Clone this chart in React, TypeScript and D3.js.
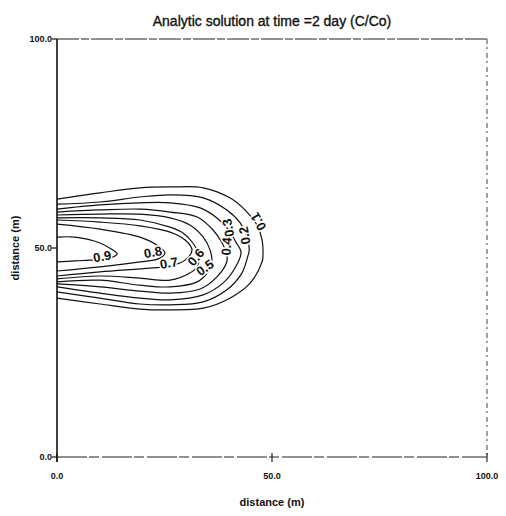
import React from "react";
import * as d3 from "d3";

const W = 506;
const H = 516;

const title = "Analytic solution at time =2 day (C/Co)";
const xTicks = [0, 50, 100];
const yTicks = [0, 50, 100];
const xTickLabels = ["0.0", "50.0", "100.0"];
const yTickLabels = ["0.0", "50.0", "100.0"];
const xTitle = "distance (m)";
const yTitle = "distance (m)";

const levels = [0.1, 0.2, 0.3, 0.4, 0.5, 0.6, 0.7, 0.8, 0.9];

// contour traces, [x (m), y (m)]
const c01: [number, number][] = [[0, 61.7], [10, 63.2], [19.3, 64.4], [26.3, 64.6], [34, 64.4], [40.2, 62.0], [44.2, 58.6], [46.5, 55.5], [47.7, 51.9], [47.9, 48.3], [47.7, 46.7], [44.9, 41.6], [40.2, 38.0], [34, 35.6], [26.3, 35.2], [19.3, 35.4], [10, 36.6], [0, 38.0]];
const c02: [number, number][] = [[0, 60.5], [10, 61.0], [19.3, 62.2], [26.3, 62.7], [34, 62.0], [39.5, 59.1], [42.6, 56.0], [44.2, 52.6], [44.7, 49.5], [44.4, 48.1], [43.0, 44.0], [39.5, 40.0], [34, 37.1], [26.3, 36.4], [19.3, 36.6], [10, 38.0], [0, 39.5]];
const c03: [number, number][] = [[0, 59.3], [10, 60.3], [19.3, 60.8], [26.3, 60.8], [33.3, 59.6], [37.2, 57.2], [39.8, 54.5], [41.6, 51.4], [42.8, 49.0], [41.4, 45.2], [38.6, 41.6], [34, 38.8], [26.3, 37.6], [19.3, 38.0], [10, 39.2], [0, 40.7]];
const c04: [number, number][] = [[0, 58.6], [10, 59.1], [19.3, 59.3], [26.3, 58.6], [32.6, 57.4], [36.3, 54.3], [38.4, 51.2], [39.5, 48.3], [39.5, 46.7], [37.2, 43.1], [33.3, 40.2], [26.3, 39.2], [19.3, 39.7], [10, 40.7], [0, 41.4]];
const c05: [number, number][] = [[0, 57.9], [10, 58.1], [19.3, 58.1], [26.3, 57.2], [30.9, 55.5], [34, 52.6], [35.6, 49.5], [36.0, 46.7], [35.1, 44.3], [32.6, 41.9], [26.3, 40.7], [19.3, 41.1], [10, 42.3], [0, 41.9]];
const c06: [number, number][] = [[0, 57.2], [10, 57.2], [19.3, 56.7], [26.3, 55.0], [29.3, 53.6], [31.6, 51.2], [33.0, 48.3], [32.6, 45.5], [30.9, 44.0], [26.3, 42.3], [19.3, 42.8], [10, 43.3], [0, 42.6]];
const c07: [number, number][] = [[0, 56.7], [10, 56.2], [19.3, 55.3], [26.3, 53.8], [29.8, 51.9], [31.4, 49.5], [29.8, 47.1], [26.3, 45.7], [21.6, 45.2], [10, 44.3], [0, 43.3]];
const c08: [number, number][] = [[0, 55.7], [10, 54.5], [19.3, 52.6], [23.5, 50.5], [25.1, 48.8], [23.5, 47.4], [19.3, 46.7], [10, 45.5], [0, 44.5]];
const c09: [number, number][] = [[0, 52.6], [4.2, 52.6], [10, 51.2], [13, 49.5], [14, 48.6], [12.3, 47.6], [7.7, 47.1], [4.2, 46.9], [0, 46.7]];
const contours = [c01, c02, c03, c04, c05, c06, c07, c08, c09];

// label anchor positions (m) and angles
const labelX = [46.8, 43.6, 39.8, 39.4, 34.4, 32.3, 26.0, 22.3, 10.5];
const labelY = [56.3, 53.0, 54.8, 50.4, 45.3, 47.8, 46.4, 49.0, 48.0];
const labelAngle = [-120, -100, -100, -85, -35, -50, -10, -10, -10];

export default function App() {
  const left = 57, right = 487, top = 39, bottom = 457;
  const x = d3.scaleLinear().domain([0, 100]).range([left, right]);
  const y = d3.scaleLinear().domain([0, 100]).range([bottom, top]);
  const line = d3
    .line<[number, number]>()
    .x((d) => x(d[0]))
    .y((d) => y(d[1]))
    .curve(d3.curveCatmullRom.alpha(0.5));
  const font = "'Liberation Sans', Arial, Helvetica, sans-serif";

  return (
    <svg width={W} height={H} style={{ position: "absolute", left: 0, top: 0, background: "#fff" }}>
      <rect x={0} y={0} width={W} height={H} fill="#fff" />
      <text x={272} y={26} textAnchor="middle" fontFamily={font} fontSize={14} fill="#111" stroke="#111" strokeWidth={0.35}>
        {title}
      </text>

      {/* frame */}
      <line x1={x(0)} x2={x(100)} y1={y(100)} y2={y(100)} stroke="#222" strokeWidth={1.1} strokeDasharray="22 2 8 2" />
      <line x1={x(100)} x2={x(100)} y1={y(100)} y2={y(0)} stroke="#444" strokeWidth={1} strokeDasharray="5 3 2 4" />
      <line x1={x(0)} x2={x(100)} y1={y(0)} y2={y(0)} stroke="#222" strokeWidth={1.1} strokeDasharray="30 2 10 3" />
      <line x1={x(0)} x2={x(0)} y1={y(100)} y2={y(0) + 5} stroke="#111" strokeWidth={1.6} />

      {/* y ticks */}
      {yTicks.map((t, i) => (
        <g key={"y" + i}>
          <line x1={x(0) - 5} x2={x(0)} y1={y(t)} y2={y(t)} stroke="#111" strokeWidth={1.2} />
          <text x={x(0) - 5} y={y(t) + 3} textAnchor="end" fontFamily={font} fontSize={9} fontWeight="bold" fill="#111">
            {yTickLabels[i]}
          </text>
        </g>
      ))}
      {/* x ticks */}
      {xTicks.map((t, i) => (
        <g key={"x" + i}>
          <line x1={x(t)} x2={x(t)} y1={y(0) - 4} y2={y(0) + 5} stroke="#111" strokeWidth={1.1} />
          <text x={x(t)} y={y(0) + 22} textAnchor="middle" fontFamily={font} fontSize={9} fontWeight="bold" fill="#111">
            {xTickLabels[i]}
          </text>
        </g>
      ))}
      <text x={272} y={506} textAnchor="middle" fontFamily={font} fontSize={11} fontWeight="bold" fill="#111">
        {xTitle}
      </text>
      <text transform={`translate(19,${y(50)}) rotate(-90)`} textAnchor="middle" fontFamily={font} fontSize={11} fontWeight="bold" fill="#111">
        {yTitle}
      </text>

      {/* contours */}
      {contours.map((c, i) => (
        <path key={"c" + i} d={line(c) || ""} fill="none" stroke="#111" strokeWidth={1.2} />
      ))}
      {levels.map((lv, i) => (
        <text
          key={"l" + i}
          transform={`translate(${x(labelX[i])},${y(labelY[i])}) rotate(${labelAngle[i]})`}
          textAnchor="middle"
          dy="0.35em"
          fontFamily={font}
          fontSize={13}
          fontWeight="bold"
          fill="#111"
          stroke="#fff"
          strokeWidth={3}
          paintOrder="stroke"
        >
          {String(lv)}
        </text>
      ))}
    </svg>
  );
}
